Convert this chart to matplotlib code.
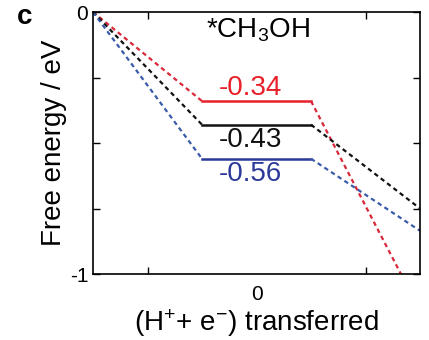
import matplotlib
matplotlib.use('Agg')
import matplotlib.pyplot as plt

# step energies (eV)
labels = ['-0.34', '-0.43', '-0.56']
plateau = [-0.34, -0.43, -0.56]
end_y = [-1.14, -0.75, -0.835]
colors = ['#e8202a', '#111111', '#2b3a98']
dash_colors = ['#d8283a', '#111111', '#3a5ca8']
label_y = [-0.29, -0.49, -0.62]

x_start, x_p0, x_p1, x_end = -1.5, -0.5, 0.5, 1.5

plt.rcParams['font.family'] = ['Liberation Sans', 'DejaVu Sans']
plt.rcParams['mathtext.fontset'] = 'custom'
plt.rcParams['mathtext.rm'] = 'Liberation Sans'
plt.rcParams['mathtext.it'] = 'Liberation Sans'
fig = plt.figure(figsize=(4.29, 3.40), dpi=100)
ax = fig.add_axes([93/429, 1-274/340, 327/429, 262/340])

for p, e, c, dc, t, ly in zip(plateau, end_y, colors, dash_colors, labels, label_y):
    ax.plot([x_start, x_p0], [0, p], color=dc, lw=1.6, ls=(0, (2, 1.6)))
    ax.plot([x_p0, x_p1], [p, p], color=c, lw=1.8)
    ax.plot([x_p1, x_end], [p, e], color=dc, lw=1.6, ls=(0, (2, 1.6)))
    ax.text(-0.06, ly, t, color=c, fontsize=20, ha='center', va='center')

ax.text(0.01, -0.07, '*CH$_3$OH', fontsize=20, ha='center', va='center')

ax.set_xlim(-1.5, 1.5)
ax.set_ylim(-1, 0)
ax.set_xticks([-1, 1])
ax.set_xticklabels([])
ax.set_xticks([0], minor=True)
ax.set_xticklabels(['0'], minor=True, fontsize=15)
ax.tick_params(axis='x', which='minor', length=0, pad=8)
ax.set_yticks([0, -0.25, -0.5, -0.75, -1])
ax.set_yticklabels(['0', '', '', '', '-1'], fontsize=15)
ax.tick_params(which='major', direction='in', top=True, right=True, length=5, width=1)
for s in ax.spines.values():
    s.set_linewidth(1.2)

ax.set_ylabel('Free energy / eV', fontsize=20, labelpad=2)
ax.set_xlabel('(H$^{+}$+ e$^{-}$) transferred', fontsize=20, labelpad=2)
fig.text(17/429, 1-17/340, 'c', fontsize=20, fontweight='bold', va='center')

fig.savefig('out.png', dpi=100)
